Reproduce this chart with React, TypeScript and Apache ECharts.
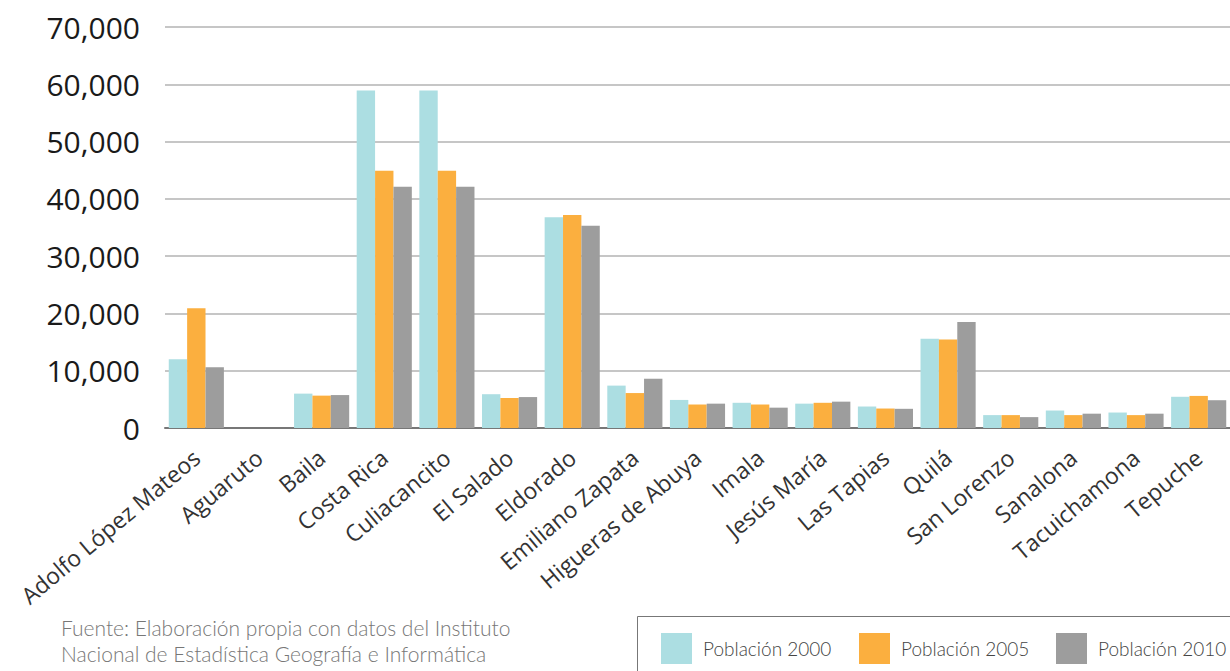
import React, { useEffect, useRef } from "react";
import * as echarts from "echarts";

const categories = [
  "Adolfo López Mateos",
  "Aguaruto",
  "Baila",
  "Costa Rica",
  "Culiacancito",
  "El Salado",
  "Eldorado",
  "Emiliano Zapata",
  "Higueras de Abuya",
  "Imala",
  "Jesús María",
  "Las Tapias",
  "Quilá",
  "San Lorenzo",
  "Sanalona",
  "Tacuichamona",
  "Tepuche",
];

const poblacion2000 = [12000, null, 6000, 58900, 58900, 5900, 36800, 7400, 4900, 4400, 4250, 3750, 15600, 2250, 3050, 2700, 5450];
const poblacion2005 = [20900, null, 5650, 44900, 44900, 5250, 37200, 6100, 4100, 4100, 4400, 3400, 15450, 2250, 2250, 2250, 5600];
const poblacion2010 = [10600, null, 5750, 42100, 42100, 5400, 35300, 8600, 4250, 3550, 4600, 3350, 18500, 1900, 2500, 2500, 4850];

const seriesNames = ["Población 2000", "Población 2005", "Población 2010"];
const seriesColors = ["#ACDEE2", "#FBAF3F", "#9D9D9D"];

const yTicks = { min: 0, max: 70000, interval: 10000 };

const sourceLines = [
  "Fuente: Elaboración propia con datos del Instituto",
  "Nacional de Estadística Geografía e Informática",
];

export default function App() {
  const ref = useRef<HTMLDivElement>(null);

  useEffect(() => {
    document.body.style.margin = "0";
    if (!ref.current) return;
    const chart = echarts.init(ref.current, null, { renderer: "svg" });
    const values = [poblacion2000, poblacion2005, poblacion2010];
    const legendLefts = [661, 859, 1056];
    chart.setOption({
      animation: false,
      backgroundColor: "#ffffff",
      textStyle: { fontFamily: "Open Sans" },
      grid: { left: 165, right: -1, top: 27, bottom: 243, containLabel: false },
      legend: seriesNames.map((name, i) => ({
        data: [name],
        left: legendLefts[i],
        top: 633,
        padding: 0,
        itemWidth: 31,
        itemHeight: 31,
        icon: "rect",
        selectedMode: false,
        textStyle: {
          fontFamily: "Lato",
          fontWeight: 300,
          fontSize: 19,
          color: "#444444",
          padding: [0, 0, 0, 6],
        },
      })),
      xAxis: {
        type: "category",
        data: categories,
        axisLine: { lineStyle: { color: "#777777", width: 2 } },
        axisTick: { show: false },
        axisLabel: {
          interval: 0,
          rotate: 40,
          fontSize: 23,
          color: "#333333",
          margin: 26,
          fontFamily: "Open Sans",
        },
      },
      yAxis: {
        type: "value",
        min: yTicks.min,
        max: yTicks.max,
        interval: yTicks.interval,
        axisLine: { show: false },
        axisTick: { show: false },
        splitLine: { lineStyle: { color: "#b3b3b3", width: 1.5 } },
        axisLabel: {
          fontSize: 30,
          color: "#1a1a1a",
          margin: 25,
          fontFamily: "Open Sans",
          formatter: (v: number) => v.toLocaleString("en-US"),
        },
      },
      series: seriesNames.map((name, i) => ({
        name,
        type: "bar",
        data: values[i],
        barGap: "0%",
        barCategoryGap: "12%",
        itemStyle: { color: seriesColors[i] },
      })),
      graphic: [
        {
          type: "rect",
          shape: { x: 637.5, y: 616.5, width: 700, height: 100 },
          style: { fill: "none", stroke: "#777777", lineWidth: 1 },
          silent: true,
        },
        {
          type: "text",
          left: 61,
          top: 614,
          style: {
            text: sourceLines.join("\n"),
            fontFamily: "Lato",
            fontWeight: 300,
            fontSize: 21,
            lineHeight: 26,
            fill: "#777777",
          },
        },
      ],
    });
    return () => chart.dispose();
  }, []);

  return <div ref={ref} style={{ width: 1230, height: 671 }} />;
}
